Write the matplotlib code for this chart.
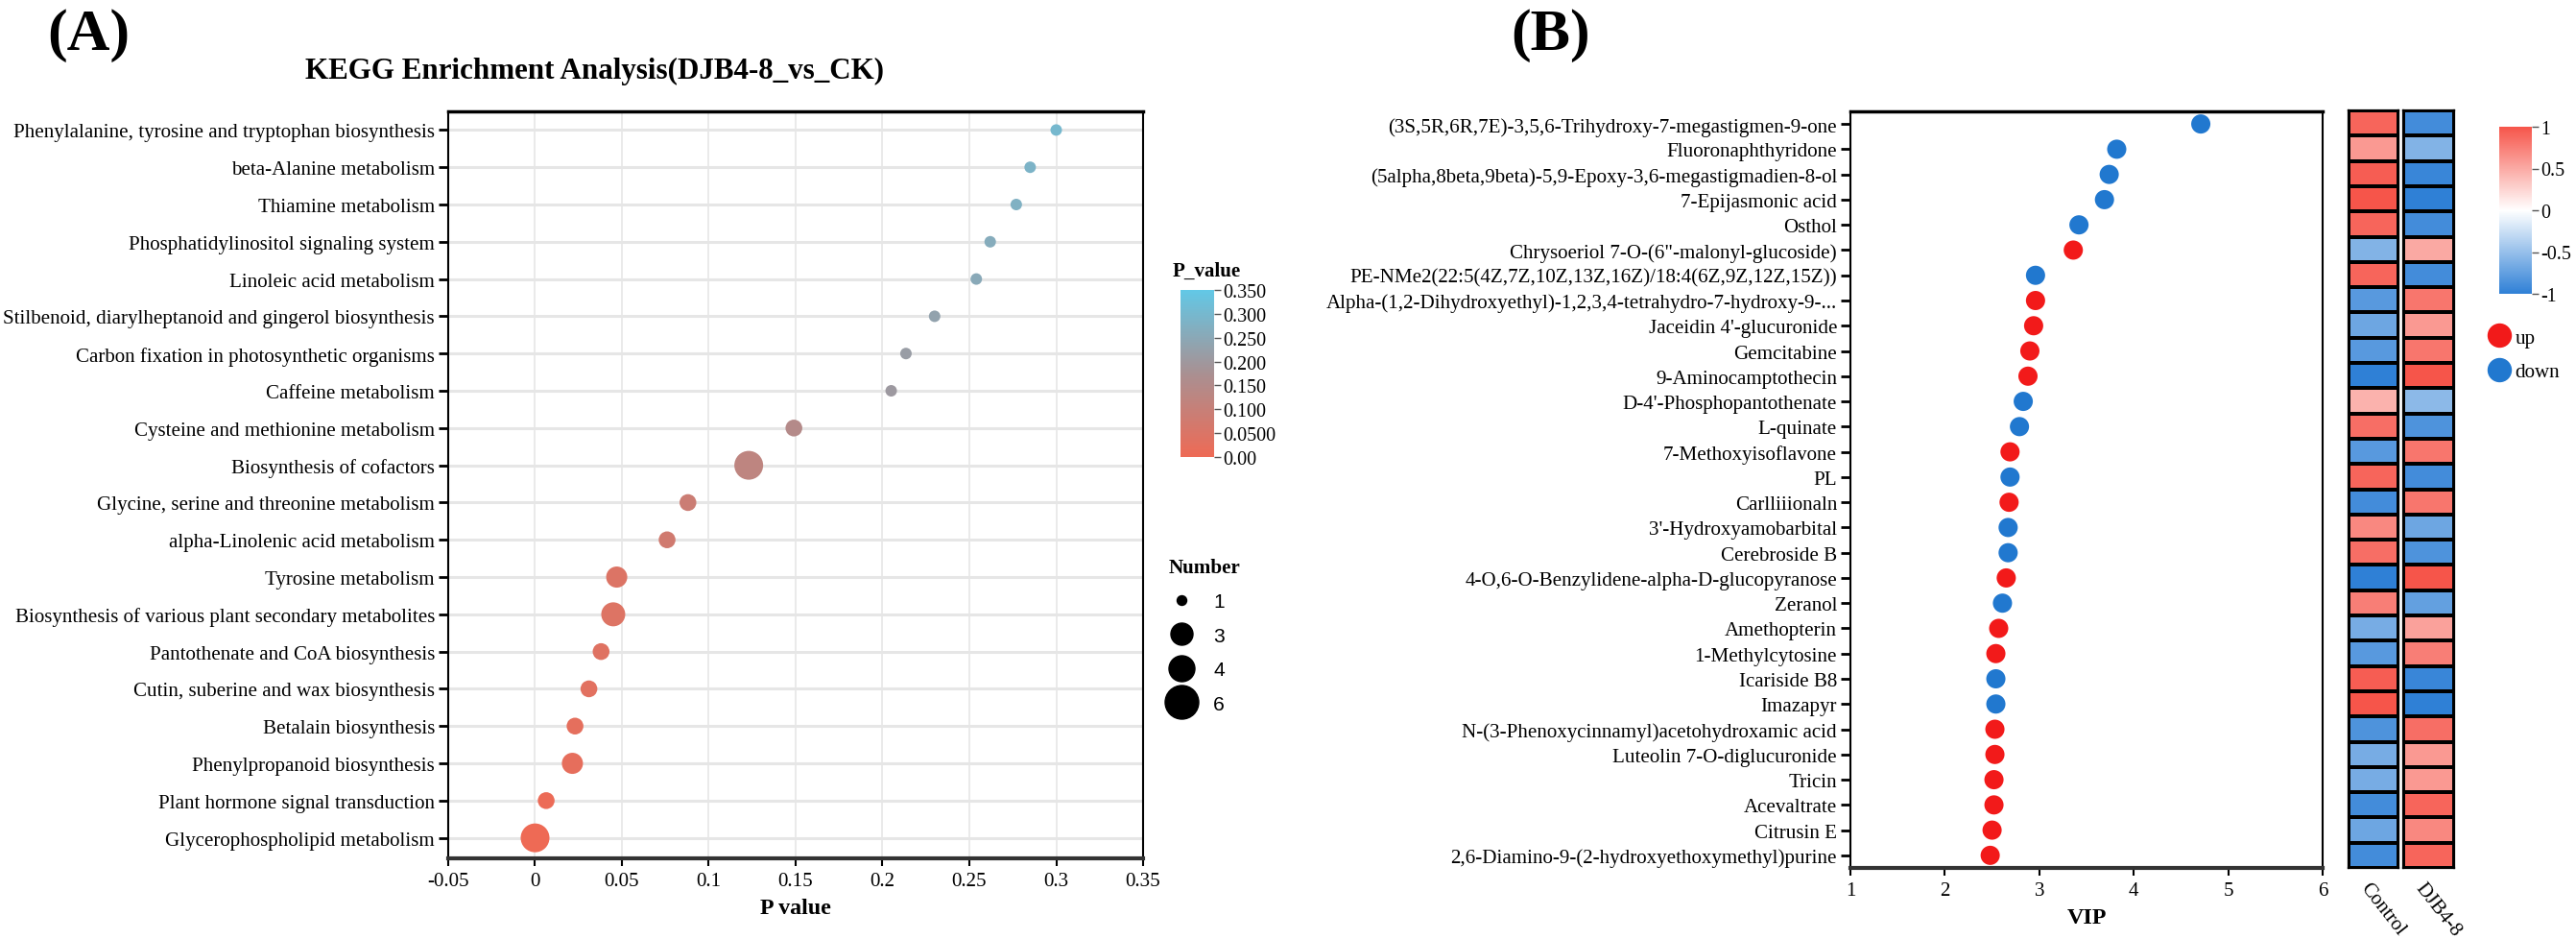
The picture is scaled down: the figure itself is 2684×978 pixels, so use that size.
import numpy as np
import matplotlib
matplotlib.use("Agg")
import matplotlib.pyplot as plt
from matplotlib.colors import LinearSegmentedColormap, Normalize
from matplotlib.lines import Line2D
import matplotlib.colorbar as mcolorbar

plt.rcParams['font.family'] = ['Liberation Serif', 'DejaVu Serif']

# ---- panel A data: KEGG enrichment ----
pathways = [
    "Phenylalanine, tyrosine and tryptophan biosynthesis",
    "beta-Alanine metabolism",
    "Thiamine metabolism",
    "Phosphatidylinositol signaling system",
    "Linoleic acid metabolism",
    "Stilbenoid, diarylheptanoid and gingerol biosynthesis",
    "Carbon fixation in photosynthetic organisms",
    "Caffeine metabolism",
    "Cysteine and methionine metabolism",
    "Biosynthesis of cofactors",
    "Glycine, serine and threonine metabolism",
    "alpha-Linolenic acid metabolism",
    "Tyrosine metabolism",
    "Biosynthesis of various plant secondary metabolites",
    "Pantothenate and CoA biosynthesis",
    "Cutin, suberine and wax biosynthesis",
    "Betalain biosynthesis",
    "Phenylpropanoid biosynthesis",
    "Plant hormone signal transduction",
    "Glycerophospholipid metabolism",
]
p_values = [0.300, 0.285, 0.277, 0.262, 0.254, 0.230, 0.2135, 0.205, 0.149, 0.123,
            0.088, 0.076, 0.047, 0.045, 0.038, 0.031, 0.023, 0.0215, 0.0064, 0.0]
numbers = [1, 1, 1, 1, 1, 1, 1, 1, 2, 6, 2, 2, 3, 4, 2, 2, 2, 3, 2, 6]
number_breaks = [1, 3, 4, 6]
pv_ticks = [0.0, 0.05, 0.10, 0.15, 0.20, 0.25, 0.30, 0.35]
pv_ticklabels = ['0.00', '0.0500', '0.100', '0.150', '0.200', '0.250', '0.300', '0.350']

# ---- panel B data: VIP + heatmap ----
metabolites = [
    "(3S,5R,6R,7E)-3,5,6-Trihydroxy-7-megastigmen-9-one",
    "Fluoronaphthyridone",
    "(5alpha,8beta,9beta)-5,9-Epoxy-3,6-megastigmadien-8-ol",
    "7-Epijasmonic acid",
    "Osthol",
    "Chrysoeriol 7-O-(6\"-malonyl-glucoside)",
    "PE-NMe2(22:5(4Z,7Z,10Z,13Z,16Z)/18:4(6Z,9Z,12Z,15Z))",
    "Alpha-(1,2-Dihydroxyethyl)-1,2,3,4-tetrahydro-7-hydroxy-9-...",
    "Jaceidin 4'-glucuronide",
    "Gemcitabine",
    "9-Aminocamptothecin",
    "D-4'-Phosphopantothenate",
    "L-quinate",
    "7-Methoxyisoflavone",
    "PL",
    "Carlliiionaln",
    "3'-Hydroxyamobarbital",
    "Cerebroside B",
    "4-O,6-O-Benzylidene-alpha-D-glucopyranose",
    "Zeranol",
    "Amethopterin",
    "1-Methylcytosine",
    "Icariside B8",
    "Imazapyr",
    "N-(3-Phenoxycinnamyl)acetohydroxamic acid",
    "Luteolin 7-O-diglucuronide",
    "Tricin",
    "Acevaltrate",
    "Citrusin E",
    "2,6-Diamino-9-(2-hydroxyethoxymethyl)purine",
]
vip = [4.71, 3.82, 3.74, 3.69, 3.42, 3.36, 2.96, 2.96, 2.94, 2.90,
       2.88, 2.83, 2.79, 2.69, 2.69, 2.68, 2.67, 2.67, 2.65, 2.61,
       2.57, 2.54, 2.54, 2.54, 2.53, 2.53, 2.52, 2.52, 2.50, 2.48]
regulation = ['down', 'down', 'down', 'down', 'down', 'up', 'down', 'up', 'up', 'up',
              'up', 'down', 'down', 'up', 'down', 'up', 'down', 'down', 'up', 'down',
              'up', 'up', 'down', 'down', 'up', 'up', 'up', 'up', 'up', 'up']
control = [0.90, 0.60, 0.95, 1.00, 0.90, -0.60, 0.90, -0.80, -0.70, -0.80,
           -1.00, 0.45, 0.85, -0.80, 0.90, -0.90, 0.70, 0.85, -1.00, 0.75,
           -0.65, -0.80, 0.95, 1.00, -0.85, -0.65, -0.65, -0.90, -0.70, -0.90]
djb = [-0.90, -0.60, -0.95, -1.00, -0.90, 0.50, -0.90, 0.80, 0.60, 0.80,
       1.00, -0.55, -0.85, 0.80, -0.90, 0.80, -0.70, -0.85, 1.00, -0.75,
       0.55, 0.75, -0.95, -1.00, 0.85, 0.60, 0.60, 0.90, 0.70, 0.90]
groups = ['Control', 'DJB4-8']

W, H = 2684, 979
fig = plt.figure(figsize=(W / 100, H / 100), dpi=100)


def rect(x0, y0, x1, y1):
    return [x0 / W, 1 - y1 / H, (x1 - x0) / W, (y1 - y0) / H]


def px(v):
    return v * 0.72


def style_box(ax):
    for s in ['left', 'right']:
        ax.spines[s].set_linewidth(1.5)
    ax.spines['top'].set_linewidth(2.5)
    ax.spines['bottom'].set_linewidth(3)
    ax.spines['bottom'].set_color('#333333')
    ax.tick_params(axis='y', length=7, width=2, labelsize=px(21), pad=3)
    ax.tick_params(axis='x', length=6, width=1.5, labelsize=px(21), pad=4)

# ================= panel A =================
cmap_a = LinearSegmentedColormap.from_list('pv', ['#EE6A55', '#A99092', '#62C8E6'])
norm_a = Normalize(0, 0.35)


def size_of(n):
    # dot diameter in px for a gene number
    return np.interp(n, [1, 2, 3, 4, 6], [12, 17.5, 22, 25, 30])


def legend_size_of(n):
    return np.interp(n, [1, 3, 4, 6], [10, 23, 27, 35])

axA = fig.add_axes(rect(467, 117, 1191, 895))
ya = np.arange(len(pathways))[::-1]
axA.set_axisbelow(True)
for y in ya:
    axA.axhline(y, color='#E6E6E6', lw=2.2, zorder=0)
axA.grid(axis='x', color='#E6E6E6', lw=1.2)
axA.scatter(p_values, ya, s=[px(size_of(n)) ** 2 for n in numbers],
            c=p_values, cmap=cmap_a, norm=norm_a, edgecolors='none', zorder=3)
axA.set_xlim(-0.05, 0.35)
axA.set_ylim(-0.55, len(pathways) - 0.5)
axA.set_xticks(np.arange(-0.05, 0.351, 0.05))
axA.set_xticklabels(['-0.05', '0', '0.05', '0.1', '0.15', '0.2', '0.25', '0.3', '0.35'])
axA.set_yticks(ya)
axA.set_yticklabels(pathways)
style_box(axA)
axA.set_xlabel('P value', fontsize=px(24), fontweight='bold', labelpad=6)
fig.text(619 / W, 1 - 74 / H, 'KEGG Enrichment Analysis(DJB4-8_vs_CK)',
         fontsize=px(31), fontweight='bold', ha='center', va='center')

caxA = fig.add_axes(rect(1230, 303, 1265, 477))
cbA = mcolorbar.ColorbarBase(caxA, cmap=cmap_a, norm=norm_a, ticks=pv_ticks)
cbA.set_ticklabels(pv_ticklabels)
cbA.outline.set_visible(False)
caxA.tick_params(labelsize=px(20), length=5, width=1, color='#555555', pad=2)
fig.text(1222 / W, 1 - 283 / H, 'P_value', fontsize=px(21), fontweight='bold',
         va='center', ha='left')

num_handles = [Line2D([], [], ls='none', marker='o', color='black',
                      markersize=px(legend_size_of(n))) for n in number_breaks]
legN = fig.legend(num_handles, [str(n) for n in number_breaks], loc='upper left',
                  bbox_to_anchor=(1218 / W, 1 - 582 / H), frameon=False,
                  title='Number', handletextpad=1.0, handlelength=1.2,
                  labelspacing=0.78, borderpad=0, borderaxespad=0,
                  prop={'family': 'Liberation Sans', 'size': px(21)})
legN.get_title().set_fontweight('bold')
legN.get_title().set_fontsize(px(21))
legN.get_title().set_fontfamily('Liberation Serif')
legN._legend_box.align = 'left'

fig.text(92 / W, 1 - 37 / H, '(A)', fontsize=px(62), fontweight='bold',
         ha='center', va='center')

# ================= panel B =================
up_color, down_color = '#F21A1A', '#2178CF'
axB = fig.add_axes(rect(1928, 117, 2420, 905))
yb = np.arange(len(metabolites))[::-1]
axB.scatter(vip, yb, s=px(20) ** 2,
            c=[up_color if r == 'up' else down_color for r in regulation],
            edgecolors='none', zorder=3)
axB.set_xlim(1, 6)
axB.set_ylim(-0.5, len(metabolites) - 0.5)
axB.set_yticks(yb)
axB.set_yticklabels(metabolites)
style_box(axB)
axB.set_xlabel('VIP', fontsize=px(24), fontweight='bold', labelpad=6)

cmap_b = LinearSegmentedColormap.from_list('z', ['#2F80D6', '#FFFFFF', '#F6554A'])
norm_b = Normalize(-1, 1)
col_rects = [rect(2447, 116, 2499, 905), rect(2504, 116, 2557, 905)]
for vals, r, name in zip([control, djb], col_rects, groups):
    axH = fig.add_axes(r)
    axH.pcolormesh(np.array(vals)[:, None], cmap=cmap_b, norm=norm_b,
                   edgecolors='black', linewidth=1.6)
    axH.set_ylim(len(vals), 0)
    axH.set_xlim(0, 1)
    axH.set_xticks([])
    axH.set_yticks([])
    for s in axH.spines.values():
        s.set_linewidth(1.6)
    axH.text(0.45, -0.014, name, transform=axH.transAxes, rotation=-52,
             rotation_mode='anchor', ha='left', va='top', fontsize=px(21))

caxB = fig.add_axes(rect(2604, 133, 2638, 307))
cbB = mcolorbar.ColorbarBase(caxB, cmap=cmap_b, norm=norm_b, ticks=[-1, -0.5, 0, 0.5, 1])
cbB.set_ticklabels(['-1', '-0.5', '0', '0.5', '1'])
cbB.outline.set_visible(False)
caxB.tick_params(labelsize=px(20), length=5, width=1, color='#555555', pad=2)

reg_handles = [Line2D([], [], ls='none', marker='o', color=up_color, markersize=px(24)),
               Line2D([], [], ls='none', marker='o', color=down_color, markersize=px(24))]
fig.legend(reg_handles, ['up', 'down'], loc='upper left',
           bbox_to_anchor=(2591 / W, 1 - 343 / H), frameon=False,
           handletextpad=0.2, handlelength=1.2, labelspacing=0.75,
           borderpad=0, borderaxespad=0, prop={'size': px(21)})

fig.text(1616 / W, 1 - 37 / H, '(B)', fontsize=px(62), fontweight='bold',
         ha='center', va='center')

fig.savefig('out.png', dpi=100, facecolor='white')
